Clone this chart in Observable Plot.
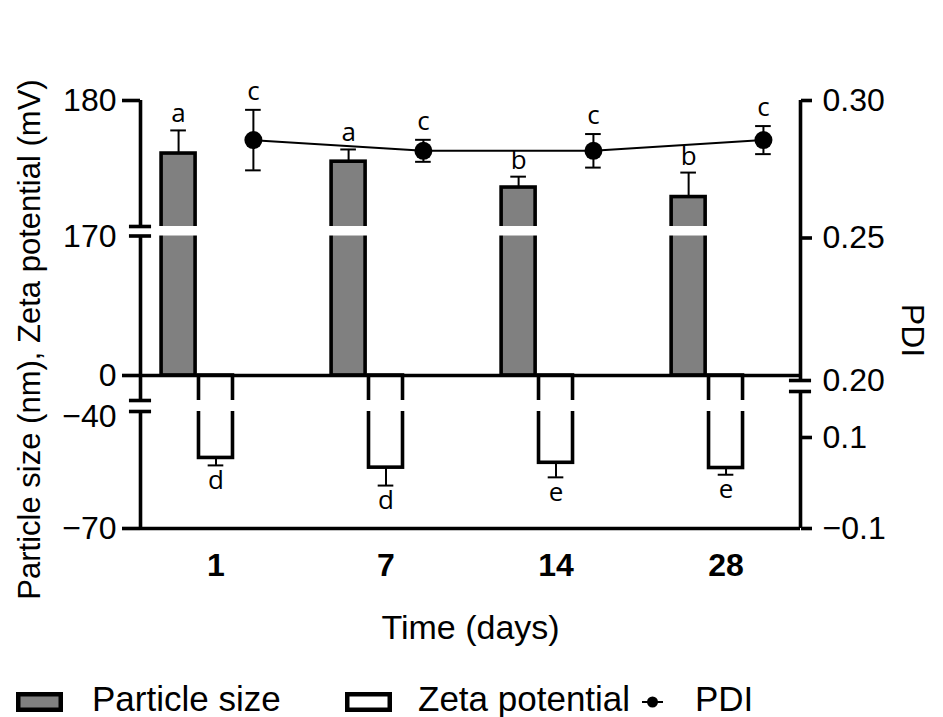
<!DOCTYPE html>
<html><head><meta charset="utf-8">
<script src="https://cdn.jsdelivr.net/npm/d3@7"></script>
<script src="https://cdn.jsdelivr.net/npm/@observablehq/plot@0.6"></script>
<style>body{margin:0;background:#fff;} svg{display:block;overflow:visible}</style>
</head><body><div id="chart"></div><div id="legend"></div><script>
const days = ["1","7","14","28"];
const seriesNames = ["Particle size","Zeta potential","PDI"];
const particleSize = [176.1,175.5,173.6,172.9];
const particleSD = [1.7,0.9,0.8,1.8];
const particleLetters = ["a","a","b","b"];
const zetaPotential = [-51.1,-53.7,-52.4,-53.8];
const zetaSD = [2.0,4.8,3.9,1.8];
const zetaLetters = ["d","d","e","e"];
const pdi = [0.2856,0.2817,0.2817,0.2856];
const pdiSD = [0.011,0.004,0.0061,0.0051];
const pdiLetters = ["c","c","c","c"];
const leftTicks = [180,170,0,-40,-70];
const leftTickLabels = ["180","170","0","−40","−70"];
const leftBreakTicks = [170,-40];
const rightTicks = [0.30,0.25,0.20,0.1,-0.1];
const rightTickLabels = ["0.30","0.25","0.20","0.1","−0.1"];
const rightBreakTicks = [0.20];

// broken-axis transforms into one continuous plotting coordinate
function fL(v){
  if (v >= 170) return 139 + (v-170)*13.6;
  if (v >= 0) return v*139/170;
  if (v >= -40) return v*41/40;
  return -41 + (v+40)*112/30;
}
function fR(p){
  if (p >= 0.2) return (p-0.2)*2750;
  return -62 + (p-0.1)*455;
}
const Y0 = fL(-70), Y1 = fL(180);
const XMIN = -0.444, XMAX = 3.438;
const BW = 0.1, P_OFF = -0.22, Z_OFF = 0, D_OFF = 0.22;
const upperGap = [139.5, 149];
const lowerGap = [-36, -25];
const rightGap = [-16, -5];
const idx = days.map((d,i)=>i);

const lMap = new Map(leftTicks.map((t,i)=>[fL(t), leftTickLabels[i]]));
const rMap = new Map(rightTicks.map((t,i)=>[fR(t), rightTickLabels[i]]));
const lTicked = leftTicks.filter(t=>!leftBreakTicks.includes(t)).map(fL);
const lBreak = leftBreakTicks.map(fL);
const rTicked = rightTicks.filter(t=>!rightBreakTicks.includes(t)).map(fR);
const rBreak = rightBreakTicks.map(fR);
const cap = 0.046, brk = 0.065;
const SW = 3.6;
const LF = "Open Sans, sans-serif";
const TF = 32;

const chart = Plot.plot({
  width: 943, height: 660,
  marginTop: 100, marginBottom: 132, marginLeft: 140, marginRight: 143,
  x: {domain: [XMIN, XMAX], axis: null},
  y: {domain: [Y0, Y1], axis: null},
  style: {fontFamily: "Liberation Sans, Arial, sans-serif", fontSize: "30px", color: "black", background: "white"},
  marks: [
    Plot.rect(idx, {x1: i=>i+P_OFF-BW, x2: i=>i+P_OFF+BW, y1: 0, y2: i=>fL(particleSize[i]), fill: "#808080", stroke: "black", strokeWidth: SW}),
    Plot.rect(idx, {x1: i=>i+Z_OFF-BW, x2: i=>i+Z_OFF+BW, y1: 0, y2: i=>fL(zetaPotential[i]), fill: "white", stroke: "black", strokeWidth: SW}),
    Plot.rect(idx, {x1: i=>i+P_OFF-BW-0.03, x2: i=>i+P_OFF+BW+0.03, y1: upperGap[0], y2: upperGap[1], fill: "white"}),
    Plot.rect(idx, {x1: i=>i+Z_OFF-BW-0.03, x2: i=>i+Z_OFF+BW+0.03, y1: lowerGap[0], y2: lowerGap[1], fill: "white"}),
    Plot.ruleY([0], {x1: XMIN, x2: XMAX, strokeWidth: SW}),
    Plot.ruleY([Y0], {x1: XMIN, x2: XMAX, strokeWidth: SW}),
    Plot.ruleX([[Y1, upperGap[1]], [upperGap[0], lowerGap[1]], [lowerGap[0], Y0]], {x: XMIN, y1: d=>d[0], y2: d=>d[1], strokeWidth: SW}),
    Plot.ruleY([upperGap[0], upperGap[1], lowerGap[0], lowerGap[1]], {x1: XMIN-brk, x2: XMIN+brk, strokeWidth: SW}),
    Plot.ruleX([[Y1, rightGap[1]], [rightGap[0], Y0]], {x: XMAX, y1: d=>d[0], y2: d=>d[1], strokeWidth: SW}),
    Plot.ruleY(rightGap, {x1: XMAX-brk, x2: XMAX+brk, strokeWidth: SW}),
    Plot.axisY(lTicked, {anchor: "left", tickSize: 18, tickPadding: 6, tickFormat: d=>lMap.get(d), strokeWidth: SW, fontSize: TF, label: null}),
    Plot.axisY(lBreak, {anchor: "left", tickSize: 0, tickPadding: 24, tickFormat: d=>lMap.get(d), fontSize: TF, label: null}),
    Plot.axisY(rTicked, {anchor: "right", tickSize: 11, tickPadding: 11, tickFormat: d=>rMap.get(d), strokeWidth: SW, fontSize: TF, label: null}),
    Plot.axisY(rBreak, {anchor: "right", tickSize: 0, tickPadding: 22, dy: 5, tickFormat: d=>rMap.get(d), fontSize: TF, label: null}),
    Plot.axisX(idx, {anchor: "bottom", tickSize: 0, tickPadding: 25, tickFormat: d=>days[d], fontWeight: "bold", fontSize: 32, label: null}),
    Plot.ruleX(idx, {x: i=>i+P_OFF, y1: i=>fL(particleSize[i]), y2: i=>fL(particleSize[i]+particleSD[i]), strokeWidth: 2}),
    Plot.ruleY(idx, {y: i=>fL(particleSize[i]+particleSD[i]), x1: i=>i+P_OFF-cap, x2: i=>i+P_OFF+cap, strokeWidth: 2}),
    Plot.ruleX(idx, {x: i=>i+Z_OFF, y1: i=>fL(zetaPotential[i]), y2: i=>fL(zetaPotential[i]-zetaSD[i]), strokeWidth: 2}),
    Plot.ruleY(idx, {y: i=>fL(zetaPotential[i]-zetaSD[i]), x1: i=>i+Z_OFF-cap, x2: i=>i+Z_OFF+cap, strokeWidth: 2}),
    Plot.line(idx, {x: i=>i+D_OFF, y: i=>fR(pdi[i]), strokeWidth: 2}),
    Plot.ruleX(idx, {x: i=>i+D_OFF, y1: i=>fR(pdi[i]-pdiSD[i]), y2: i=>fR(pdi[i]+pdiSD[i]), strokeWidth: 2}),
    Plot.ruleY(idx, {y: i=>fR(pdi[i]+pdiSD[i]), x1: i=>i+D_OFF-cap, x2: i=>i+D_OFF+cap, strokeWidth: 2}),
    Plot.ruleY(idx, {y: i=>fR(pdi[i]-pdiSD[i]), x1: i=>i+D_OFF-cap, x2: i=>i+D_OFF+cap, strokeWidth: 2}),
    Plot.dot(idx, {x: i=>i+D_OFF, y: i=>fR(pdi[i]), r: 9, fill: "black"}),
    Plot.text(idx, {x: i=>i+P_OFF, y: i=>fL(particleSize[i]+particleSD[i]), text: i=>particleLetters[i], lineAnchor: "bottom", dy: -8, fontFamily: LF, fontSize: 26}),
    Plot.text(idx, {x: i=>i+Z_OFF, y: i=>fL(zetaPotential[i]-zetaSD[i]), text: i=>zetaLetters[i], lineAnchor: "top", dy: 5, fontFamily: LF, fontSize: 26}),
    Plot.text(idx, {x: i=>i+D_OFF, y: i=>fR(pdi[i]+pdiSD[i]), text: i=>pdiLetters[i], lineAnchor: "bottom", dy: -10, fontFamily: LF, fontSize: 26}),
    Plot.text(["Time (days)"], {frameAnchor: "bottom", dy: 100, lineAnchor: "middle", textAnchor: "middle", fontSize: 34}),
    Plot.text(["Particle size (nm), Zeta potential (mV)"], {frameAnchor: "left", rotate: -90, dx: -110, dy: 25, textAnchor: "middle", lineAnchor: "middle", fontSize: 31}),
    Plot.text(["PDI"], {frameAnchor: "right", rotate: 90, dx: 112, dy: 16, textAnchor: "middle", lineAnchor: "middle", fontSize: 32})
  ]
});
document.getElementById("chart").append(chart);

const leg = d3.create("svg").attr("width", 943).attr("height", 57)
  .style("font-family", "Liberation Sans, Arial, sans-serif").style("font-size", "35px");
leg.append("rect").attr("x", 18.25).attr("y", 34.25).attr("width", 42.5).attr("height", 15.5)
  .attr("fill", "#808080").attr("stroke", "black").attr("stroke-width", 4.5);
leg.append("text").attr("x", 92).attr("y", 51).text(seriesNames[0]);
leg.append("rect").attr("x", 347.25).attr("y", 34.25).attr("width", 42.5).attr("height", 15.5)
  .attr("fill", "white").attr("stroke", "black").attr("stroke-width", 4.5);
leg.append("text").attr("x", 418).attr("y", 51).text(seriesNames[1]);
leg.append("line").attr("x1", 642).attr("x2", 663).attr("y1", 42).attr("y2", 42).attr("stroke", "black").attr("stroke-width", 2);
leg.append("circle").attr("cx", 652.5).attr("cy", 42).attr("r", 5.5).attr("fill", "black");
leg.append("text").attr("x", 695).attr("y", 51).text(seriesNames[2]);
document.getElementById("legend").append(leg.node());
</script></body></html>
